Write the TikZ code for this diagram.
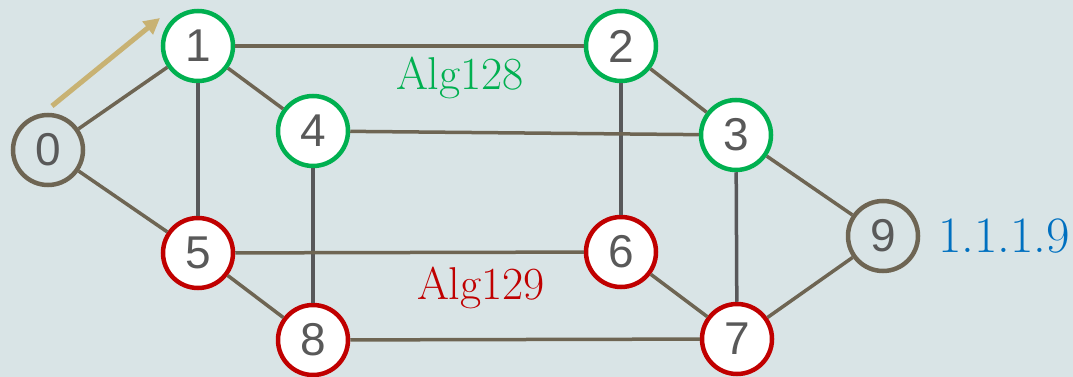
\documentclass[tikz,border=0pt]{standalone}
\usepackage{fontspec}
\setsansfont{Liberation Sans}
\usetikzlibrary{arrows.meta}
\definecolor{bgc}{HTML}{D9E4E6}
\definecolor{edgec}{HTML}{6E6553}
\definecolor{vedgec}{HTML}{58585A}
\definecolor{gnode}{HTML}{00B050}
\definecolor{rnode}{HTML}{C00000}
\definecolor{bluec}{HTML}{0070C0}
\definecolor{arrc}{HTML}{C8B273}
\definecolor{numc}{HTML}{595959}
\begin{document}
\begin{tikzpicture}[x=1pt,y=-1pt,
  vtx/.style={circle,line width=4.5pt,minimum size=70pt,inner sep=0pt,
    font=\sffamily\fontsize{46}{46}\selectfont,text=numc},
  gvtx/.style={vtx,draw=gnode,fill=white},
  rvtx/.style={vtx,draw=rnode,fill=white},
  nvtx/.style={vtx,draw=edgec,fill=bgc},
  edge/.style={draw=edgec,line width=3.5pt},
  vedge/.style={draw=vedgec,line width=3.5pt},
  lbl/.style={font=\fontsize{46}{46}\selectfont,inner sep=0pt}]
\fill[bgc] (0,0) rectangle (1073,377);
\useasboundingbox (0,0) rectangle (1073,377);
\coordinate (as) at (52,106);
\coordinate (ae) at (160,18);
\draw[arrc,line width=5pt,-{Triangle[length=16pt,width=16pt]}] (as) -- (ae);
\node[nvtx] (n0) at (48,150) {0};
\node[gvtx] (n1) at (198,46) {1};
\node[gvtx] (n2) at (621,46) {2};
\node[gvtx] (n3) at (736,135) {3};
\node[gvtx] (n4) at (313,131) {4};
\node[rvtx] (n5) at (198,253) {5};
\node[rvtx] (n6) at (621,252) {6};
\node[rvtx] (n7) at (737,339) {7};
\node[rvtx] (n8) at (313,340) {8};
\node[nvtx] (n9) at (883,236) {9};
\node[lbl,text=gnode] (l128) at (460,78) {Alg128};
\node[lbl,text=rnode] (l129) at (481,288) {Alg129};
\node[lbl,text=bluec,font=\fontsize{51}{51}\selectfont,anchor=west] (l9) at (938,236) {1.1.1.9};
\path[edge] (n0) -- (n1);
\path[edge] (n0) -- (n5);
\path[edge] (n1) -- (n2);
\path[edge] (n1) -- (n4);
\path[vedge] (n1) -- (n5);
\path[edge] (n2) -- (n3);
\path[vedge] (n2) -- (n6);
\path[edge] (n4) -- (n3);
\path[vedge] (n4) -- (n8);
\path[vedge] (n3) -- (n7);
\path[edge] (n3) -- (n9);
\path[edge] (n5) -- (n6);
\path[edge] (n5) -- (n8);
\path[edge] (n6) -- (n7);
\path[edge] (n8) -- (n7);
\path[edge] (n7) -- (n9);
\end{tikzpicture}
\end{document}
